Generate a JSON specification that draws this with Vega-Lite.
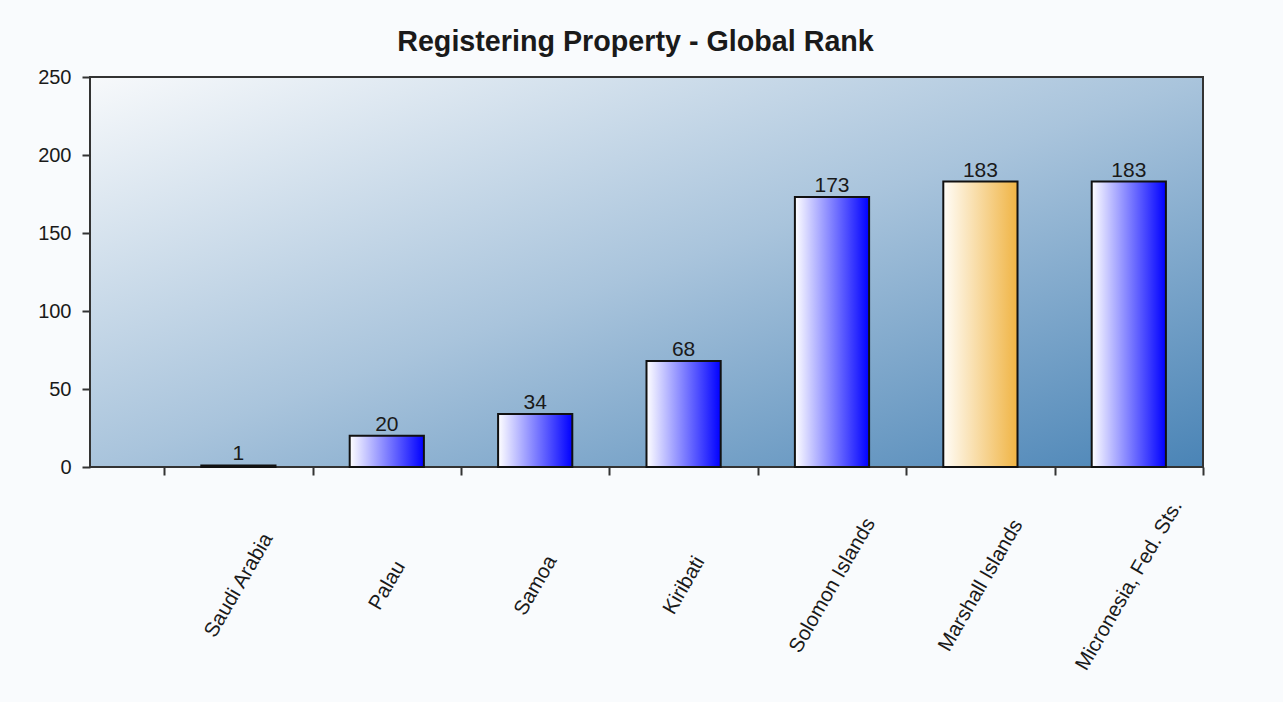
{
  "$schema": "https://vega.github.io/schema/vega-lite/v6.json",
  "width": 1113,
  "height": 390,
  "autosize": {"type": "none"},
  "padding": {"left": 90, "top": 77, "right": 80, "bottom": 235},
  "background": "#f9fbfd",
  "title": {
    "text": "Registering Property - Global Rank",
    "font": "Liberation Sans",
    "fontSize": 28.7,
    "fontWeight": "bold",
    "color": "#1a1a1a",
    "anchor": "middle",
    "dx": -11,
    "offset": 10
  },
  "config": {
    "view": {
      "stroke": "#333333",
      "strokeWidth": 2,
      "fill": {
        "gradient": "linear",
        "x1": 0, "y1": 0, "x2": 1, "y2": 1,
        "stops": [
          {"offset": 0, "color": "#f7f9fb"},
          {"offset": 0.5, "color": "#a9c4dc"},
          {"offset": 1, "color": "#4a84b6"}
        ]
      }
    },
    "axis": {
      "labelFont": "Liberation Sans",
      "labelColor": "#1a1a1a",
      "tickColor": "#333333",
      "tickWidth": 2,
      "domainColor": "#333333",
      "domainWidth": 2,
      "grid": false,
      "title": null
    }
  },
  "data": {
    "values": [
      {"country": "Saudi Arabia", "rank": 1, "highlight": false},
      {"country": "Palau", "rank": 20, "highlight": false},
      {"country": "Samoa", "rank": 34, "highlight": false},
      {"country": "Kiribati", "rank": 68, "highlight": false},
      {"country": "Solomon Islands", "rank": 173, "highlight": false},
      {"country": "Marshall Islands", "rank": 183, "highlight": true},
      {"country": "Micronesia, Fed. Sts.", "rank": 183, "highlight": false}
    ]
  },
  "encoding": {
    "x": {
      "field": "country",
      "type": "nominal",
      "sort": null,
      "scale": {"paddingInner": 0, "paddingOuter": 0.25, "align": 1},
      "axis": {
        "labelAngle": -60,
        "labelAlign": "center",
        "labelBaseline": "middle",
        "labelPadding": 110,
        "labelFontSize": 20.5,
        "labelLimit": 0,
        "tickSize": 8,
        "tickBand": "extent",
        "domain": false
      }
    },
    "y": {
      "field": "rank",
      "type": "quantitative",
      "scale": {"domain": [0, 250], "nice": false},
      "axis": {
        "values": [0, 50, 100, 150, 200, 250],
        "labelFontSize": 20,
        "tickSize": 8,
        "labelPadding": 11,
        "domain": false
      }
    }
  },
  "layer": [
    {
      "mark": {"type": "bar", "stroke": "#111111", "strokeWidth": 2, "width": {"band": 0.5}},
      "encoding": {
        "color": {
          "condition": {
            "test": "datum.highlight",
            "value": {
              "gradient": "linear",
              "x1": 0, "y1": 0, "x2": 1, "y2": 0,
              "stops": [
                {"offset": 0, "color": "#fffdf8"},
                {"offset": 1, "color": "#f0b444"}
              ]
            }
          },
          "value": {
            "gradient": "linear",
            "x1": 0, "y1": 0, "x2": 1, "y2": 0,
            "stops": [
              {"offset": 0, "color": "#ffffff"},
              {"offset": 1, "color": "#0000ff"}
            ]
          }
        }
      }
    },
    {
      "mark": {
        "type": "text",
        "font": "Liberation Sans",
        "fontSize": 21,
        "color": "#1a1a1a",
        "baseline": "bottom",
        "dy": -1
      },
      "encoding": {
        "text": {"field": "rank", "type": "quantitative"}
      }
    }
  ]
}
